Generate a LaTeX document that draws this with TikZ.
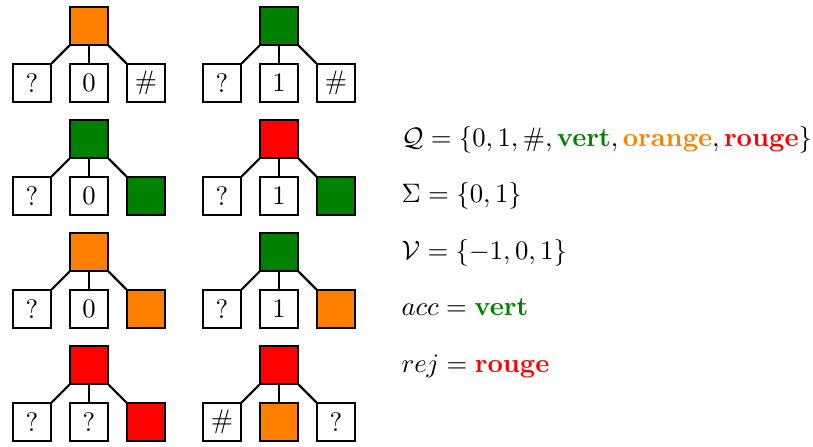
\documentclass[tikz,border=0pt]{standalone}
\usepackage{xcolor}
\definecolor{cvert}{rgb}{0,0.5,0}
\definecolor{corange}{rgb}{1,0.5,0}
\definecolor{crouge}{rgb}{1,0,0}
\begin{document}
\begin{tikzpicture}[x=0.37447pt,y=-0.37447pt,
  cell/.style={draw,minimum size=38*0.37447pt,inner sep=0pt,anchor=center},
  link/.style={thick},
  txt/.style={anchor=base west,inner sep=0pt}]
\useasboundingbox (0,0) rectangle (813,446);
% Row 1
\node[cell,fill=corange] (t1r) at (89,26) {};
\node[cell] (t1a) at (32,83) {?};
\node[cell] (t1b) at (89,83) {0};
\node[cell] (t1c) at (146,83) {\#};
\node[cell,fill=cvert] (t2r) at (279,26) {};
\node[cell] (t2a) at (222,83) {?};
\node[cell] (t2b) at (279,83) {1};
\node[cell] (t2c) at (336,83) {\#};
% Row 2
\node[cell,fill=cvert] (t3r) at (89,139) {};
\node[cell] (t3a) at (32,196) {?};
\node[cell] (t3b) at (89,196) {0};
\node[cell,fill=cvert] (t3c) at (146,196) {};
\node[cell,fill=crouge] (t4r) at (279,139) {};
\node[cell] (t4a) at (222,196) {?};
\node[cell] (t4b) at (279,196) {1};
\node[cell,fill=cvert] (t4c) at (336,196) {};
% Row 3
\node[cell,fill=corange] (t5r) at (89,252) {};
\node[cell] (t5a) at (32,309) {?};
\node[cell] (t5b) at (89,309) {0};
\node[cell,fill=corange] (t5c) at (146,309) {};
\node[cell,fill=cvert] (t6r) at (279,252) {};
\node[cell] (t6a) at (222,309) {?};
\node[cell] (t6b) at (279,309) {1};
\node[cell,fill=corange] (t6c) at (336,309) {};
% Row 4
\node[cell,fill=crouge] (t7r) at (89,365) {};
\node[cell] (t7a) at (32,422) {?};
\node[cell] (t7b) at (89,422) {?};
\node[cell,fill=crouge] (t7c) at (146,422) {};
\node[cell,fill=crouge] (t8r) at (279,365) {};
\node[cell] (t8a) at (222,422) {\#};
\node[cell,fill=corange] (t8b) at (279,422) {};
\node[cell] (t8c) at (336,422) {?};
\foreach \t in {t1,t2,t3,t4,t5,t6,t7,t8}{
  \draw[link] (\t r.south west) -- (\t a.north east);
  \draw[link] (\t r.south) -- (\t b.north);
  \draw[link] (\t r.south east) -- (\t c.north west);
}
% Text
\node[txt] (q) at (401,146) {$\mathcal{Q}=\{0,1,\#,\textcolor{cvert}{\textbf{vert}},\textcolor{corange}{\textbf{orange}},\textcolor{crouge}{\textbf{rouge}}\}$};
\node[txt] (s) at (401,202) {$\Sigma=\{0,1\}$};
\node[txt] (v) at (401,259) {$\mathcal{V}=\{-1,0,1\}$};
\node[txt] (acc) at (401,315) {$acc=\textcolor{cvert}{\textbf{vert}}$};
\node[txt] (rej) at (401,372) {$rej=\textcolor{crouge}{\textbf{rouge}}$};
\end{tikzpicture}
\end{document}
